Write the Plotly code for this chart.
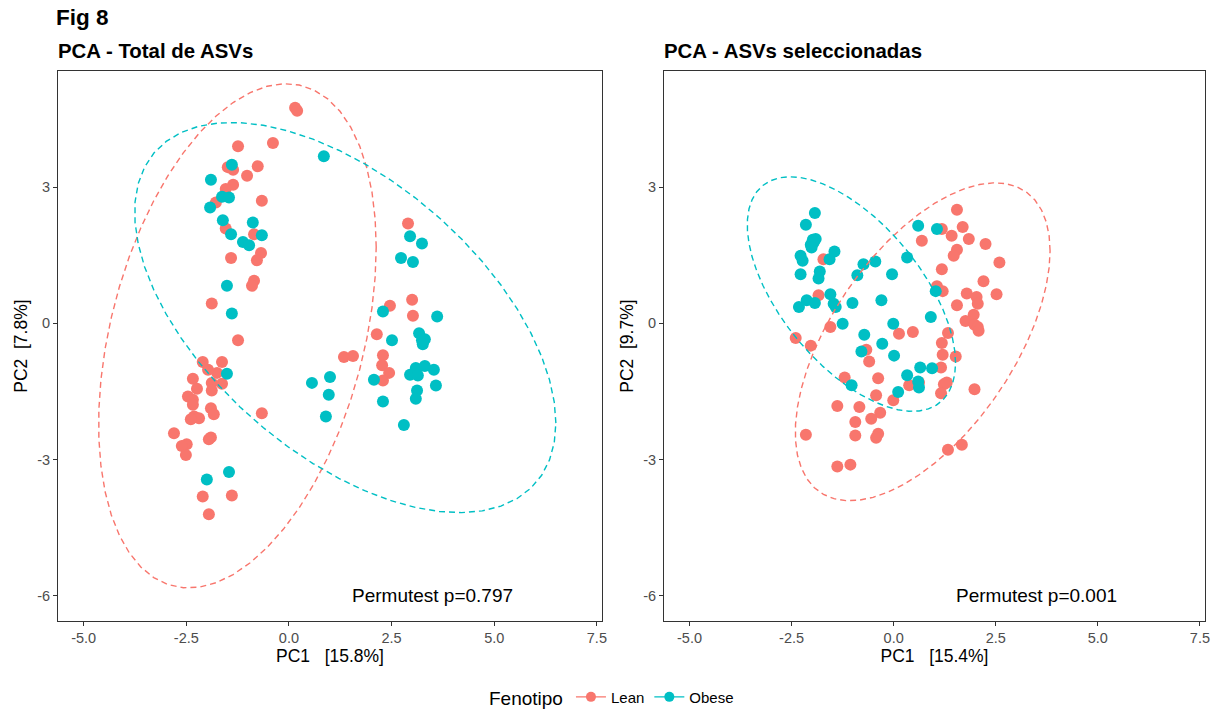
import numpy as np
import plotly.graph_objects as go

# ---------------- data: PCA scores per sample ----------------
# Panel A: all ASVs
total_lean_pc1 = [0.15, 0.20, -1.24, -0.39, -1.49, -1.36, -0.76, -1.02, -1.36, -1.54,
                  -0.66, -1.78, -1.54, -0.85, -0.68, -0.78, -1.41, -0.85, -0.90, -1.88,
                  -1.24, -2.10, -1.63, -1.97, -1.75, -2.34, -1.88, -1.63, -2.24, -1.88,
                  -2.46, -2.34, -2.34, -1.90, -1.83, -2.31, -2.19, -2.39, -0.66, -2.80,
                  -1.90, -1.95, -2.49, -2.61, -2.51, -2.10, -1.39, -1.95, 2.90, 3.00,
                  2.46, 3.02, 2.14, 2.29, 1.34, 1.56, 2.27, 2.44, 2.29]
total_lean_pc2 = [4.75, 4.68, 3.90, 3.97, 3.44, 3.38, 3.46, 3.25, 3.05, 2.96,
                  2.70, 2.66, 2.09, 1.96, 1.55, 1.39, 1.44, 0.94, 0.83, 0.44,
                  -0.37, -0.85, -0.85, -1.02, -1.09, -1.22, -1.31, -1.33, -1.44, -1.48,
                  -1.61, -1.68, -1.79, -1.87, -2.00, -2.05, -2.09, -2.11, -1.98, -2.42,
                  -2.51, -2.55, -2.66, -2.70, -2.90, -3.81, -3.79, -4.20, 2.20, 0.52,
                  0.39, 0.17, -0.24, -0.70, -0.74, -0.72, -0.92, -1.09, -1.26]
total_obese_pc1 = [0.85, -1.39, -1.90, -1.63, -1.46, -1.92, -1.61, -0.88, -1.41, -0.66,
                   -1.12, -0.97, -1.51, -1.39, -1.51, 0.56, -1.46, -2.00, 2.95, 3.24,
                   2.73, 3.02, 2.29, 3.61, 3.17, 3.24, 3.31, 3.26, 2.51, 3.09,
                   3.31, 3.53, 2.95, 3.14, 2.07, 1.00, 3.58, 3.12, 3.09, 0.97,
                   2.29, 0.90, 2.80]
total_obese_pc2 = [3.68, 3.49, 3.16, 2.79, 2.77, 2.55, 2.27, 2.22, 1.96, 1.94,
                   1.79, 1.72, 0.83, 0.22, -1.11, -1.31, -3.27, -3.44, 1.92, 1.76,
                   1.44, 1.35, 0.26, 0.15, -0.22, -0.37, -0.35, -0.46, -0.37, -0.98,
                   -0.94, -1.02, -1.13, -1.15, -1.24, -1.18, -1.37, -1.48, -1.66, -1.57,
                   -1.72, -2.05, -2.24]

# Panel B: selected ASVs
sel_lean_pc1 = [-1.72, -1.84, -1.55, -2.40, -2.03, 0.13, 0.47, 1.33, 1.18, 1.55,
                -0.67, -0.60, 1.20, 1.16, 1.52, -1.20, -0.38, 0.62, 0.38, 1.23,
                1.16, -0.43, -0.01, -1.38, -0.84, -0.33, -0.55, -0.94, -2.15, -0.94,
                -0.38, -0.43, 1.33, 1.67, -1.38, -1.06, 1.55, 1.18, 1.69, 1.42,
                1.84, 0.69, 2.25, 1.55, 1.47, 2.59, 1.18, 2.20, 1.06, 1.20,
                1.79, 2.03, 2.52, 2.06, 1.96, 1.76, 1.98, 2.06, 2.08, 1.98,
                1.30]
sel_lean_pc2 = [1.41, 0.62, -0.08, -0.32, -0.49, -0.23, -0.19, -0.21, -0.43, 0.40,
                -0.58, -0.84, -0.69, -0.97, -0.73, -1.19, -1.21, -1.30, -1.36, -1.34,
                -1.54, -1.58, -1.69, -1.82, -1.84, -1.97, -2.10, -2.17, -2.45, -2.47,
                -2.43, -2.52, -2.78, -2.67, -3.15, -3.11, 2.50, 2.08, 2.12, 1.93,
                1.86, 1.82, 1.75, 1.62, 1.49, 1.34, 1.19, 0.93, 0.82, 0.71,
                0.66, 0.58, 0.64, 0.43, 0.19, 0.05, -0.03, -0.08, -0.16, -1.45,
                -1.30]
sel_obese_pc1 = [-1.93, -2.15, -1.98, -1.91, -2.03, -1.96, -2.01, -2.28, -2.23, -1.45,
                 -1.57, -0.74, -0.45, -1.81, -2.28, -1.84, -0.89, -0.04, 0.33, -2.13,
                 -1.93, -2.32, -1.55, -1.47, -1.42, -1.01, -0.30, -1.25, -0.72, -0.01,
                 0.60, 1.06, 1.03, 0.91, -0.28, -0.79, 0.01, 0.65, 0.94, 0.33,
                 -1.03, 0.60, 0.62, 0.11]
sel_obese_pc2 = [2.43, 2.17, 1.84, 1.86, 1.73, 1.78, 1.67, 1.49, 1.38, 1.58,
                 1.41, 1.30, 1.36, 1.14, 1.08, 0.99, 1.06, 1.08, 1.45, 0.51,
                 0.45, 0.36, 0.64, 0.43, 0.36, 0.45, 0.51, -0.01, -0.25, -0.01,
                 2.15, 2.08, 0.71, 0.14, -0.45, -0.62, -0.71, -0.97, -0.99, -1.14,
                 -1.36, -1.28, -1.41, -1.51]

groups = ["Lean", "Obese"]
colors = {"Lean": "#F8766D", "Obese": "#00BFC4"}
panel_titles = ["PCA - Total de ASVs", "PCA - ASVs seleccionadas"]
x_titles = ["PC1\u00a0\u00a0\u00a0[15.8%]", "PC1\u00a0\u00a0\u00a0[15.4%]"]
y_titles = ["PC2\u00a0\u00a0[7.8%]", "PC2\u00a0\u00a0[9.7%]"]
permutest = ["Permutest p=0.797", "Permutest p=0.001"]
x_ticks = [-5, -2.5, 0, 2.5, 5, 7.5]
x_tick_text = ["-5.0", "-2.5", "0.0", "2.5", "5.0", "7.5"]
y_ticks = [-6, -3, 0, 3]

panels = [
    {"Lean": (total_lean_pc1, total_lean_pc2), "Obese": (total_obese_pc1, total_obese_pc2)},
    {"Lean": (sel_lean_pc1, sel_lean_pc2), "Obese": (sel_obese_pc1, sel_obese_pc2)},
]


# ---------------- robust t ellipse (as in stat_ellipse, type = "t") ----------------
def cov_trob(pts, nu=5, maxit=25, tol=0.01):
    n, p = pts.shape
    wt = np.ones(n)
    loc = pts.mean(axis=0)
    w = np.sqrt(wt)
    X = pts - loc
    for _ in range(maxit):
        w0 = w
        X = pts - loc
        _, d, vt = np.linalg.svd(np.sqrt(w / w.sum())[:, None] * X, full_matrices=False)
        wX = X @ vt.T @ np.diag(1.0 / d)
        Q = (wX ** 2).sum(axis=1)
        w = wt * (nu + p) / (nu + Q)
        loc = (w[:, None] * pts).sum(axis=0) / w.sum()
        if np.all(np.abs(w - w0) < tol):
            break
    sw = np.sqrt(w)[:, None] * X
    cov = sw.T @ sw / wt.sum()
    return loc, cov


def t_ellipse(xs, ys, level=0.95, segments=51):
    pts = np.column_stack([xs, ys]).astype(float)
    center, shape = cov_trob(pts)
    dfn, dfd = 2, len(pts) - 1
    # F quantile for dfn = 2 has a closed form
    qf = dfd / 2.0 * ((1 - level) ** (-2.0 / dfd) - 1)
    radius = np.sqrt(dfn * qf)
    ang = np.linspace(0, 2 * np.pi, segments + 1)
    circle = np.column_stack([np.cos(ang), np.sin(ang)])
    upper = np.linalg.cholesky(shape).T
    ell = center + radius * (circle @ upper)
    return ell[:, 0], ell[:, 1]


W, H = 1226, 716
x_dom_px = [(58, 602), (664, 1205)]
y_dom_px = (72, 627)
x_range = [-5.625, 7.625]
y_range = [-6.55, 5.55]

FONT = "Liberation Sans, Arial, sans-serif"

fig = go.Figure()

for i, data in enumerate(panels):
    xa = "x" if i == 0 else "x2"
    ya = "y" if i == 0 else "y2"
    for g in groups:
        xs, ys = data[g]
        fig.add_trace(go.Scatter(
            x=xs, y=ys, mode="markers", xaxis=xa, yaxis=ya,
            marker=dict(color=colors[g], size=12, line=dict(width=0)),
            showlegend=False, hoverinfo="x+y", name=g,
        ))
    for g in groups:
        xs, ys = data[g]
        ex, ey = t_ellipse(xs, ys)
        fig.add_trace(go.Scatter(
            x=ex, y=ey, mode="lines", xaxis=xa, yaxis=ya,
            line=dict(color=colors[g], width=1.4, dash="6px,4px"),
            showlegend=False, hoverinfo="skip", name=g,
        ))

# legend keys (point over a line)
for g in groups:
    fig.add_trace(go.Scatter(
        x=[None], y=[None], mode="lines+markers", name=g,
        marker=dict(color=colors[g], size=10),
        line=dict(color=colors[g], width=1.4),
        showlegend=True,
    ))

axis_common = dict(
    showgrid=False, zeroline=False,
    showline=True, mirror=True, linecolor="#333333", linewidth=1,
    ticks="outside", ticklen=4, tickwidth=1, tickcolor="#333333",
    tickfont=dict(family=FONT, size=14.5, color="#4D4D4D"),
    automargin=False,
)

layout = dict(
    width=W, height=H, autosize=False,
    margin=dict(l=0, r=0, t=0, b=0),
    paper_bgcolor="white", plot_bgcolor="white",
    font=dict(family=FONT, color="black"),
    showlegend=True,
    legend=dict(
        orientation="h", x=0.5, xanchor="center", y=1 - 705 / H, yanchor="middle",
        title=dict(text="Fenotipo", font=dict(family=FONT, size=19, color="black")),
        font=dict(family=FONT, size=15, color="black"),
        itemwidth=30, bgcolor="rgba(0,0,0,0)",
    ),
)

for i in range(2):
    sx = "" if i == 0 else "2"
    x0, x1 = x_dom_px[i]
    layout["xaxis" + sx] = dict(
        axis_common,
        domain=[x0 / W, x1 / W], range=x_range, anchor="y" + sx,
        tickvals=x_ticks, ticktext=x_tick_text,
        title=dict(text=x_titles[i], font=dict(family=FONT, size=17.5, color="black"), standoff=4),
    )
    layout["yaxis" + sx] = dict(
        axis_common,
        domain=[1 - y_dom_px[1] / H, 1 - y_dom_px[0] / H], range=y_range, anchor="x" + sx,
        tickvals=y_ticks, ticktext=[str(v) for v in y_ticks],
        title=dict(text=y_titles[i], font=dict(family=FONT, size=17.5, color="black"), standoff=5),
    )

fig.update_layout(**layout)

annotations = [
    dict(text="<b>Fig 8</b>", x=54 / W, y=1 - 18 / H, xref="paper", yref="paper",
         xanchor="left", yanchor="middle", showarrow=False,
         font=dict(family=FONT, size=22.5, color="black")),
]
for i in range(2):
    annotations.append(dict(
        text="<b>%s</b>" % panel_titles[i], x=(x_dom_px[i][0] - 2) / W, y=1 - 52 / H,
        xref="paper", yref="paper", xanchor="left", yanchor="middle", showarrow=False,
        font=dict(family=FONT, size=20.4, color="black")))
    annotations.append(dict(
        text=permutest[i], x=3.5, y=-6, xref="x" if i == 0 else "x2", yref="y" if i == 0 else "y2",
        xanchor="center", yanchor="middle", showarrow=False,
        font=dict(family=FONT, size=19, color="black")))
fig.update_layout(annotations=annotations)

fig.write_html("out.html")
